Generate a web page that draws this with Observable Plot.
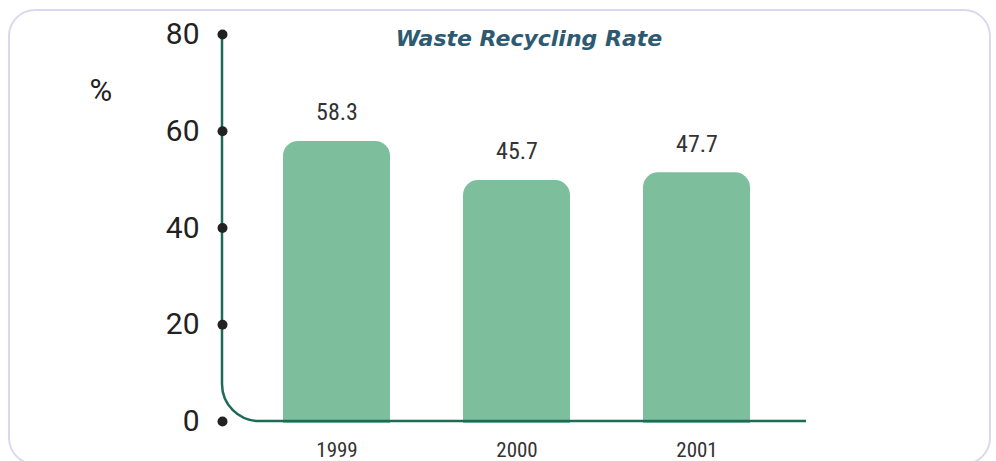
<!DOCTYPE html>
<html>
<head>
<meta charset="utf-8">
<script src="https://cdn.jsdelivr.net/npm/d3@7"></script>
<script src="https://cdn.jsdelivr.net/npm/@observablehq/plot@0.6"></script>
<style>
  html, body { margin: 0; padding: 0; background: #fff; overflow: hidden; }
  #wrap { position: relative; width: 996px; height: 461px; overflow: hidden; }
  #frame { position: absolute; left: 8px; top: 9px; width: 979px; height: 452px;
           border: 2px solid #ddd7ee; border-radius: 27px; }
  #chart { position: absolute; left: 0; top: 0; }
</style>
</head>
<body>
<div id="wrap"><div id="frame"></div><div id="chart"></div></div>
<script>
const years = ["1999", "2000", "2001"];
const barHeights = [57.9, 49.8, 51.4];
const barLabels = ["58.3", "45.7", "47.7"];
const yTicks = [0, 20, 40, 60, 80];
const title = "Waste Recycling Rate";
const unit = "%";

const data = years.map((y, i) => ({year: y, value: barHeights[i], label: barLabels[i]}));
const narrow = "'Liberation Sans Narrow', 'Roboto Condensed', 'Arial Narrow', Roboto, sans-serif";
const barColor = "#7dbe9c";
const axisColor = "#1d6b56";

const plot = Plot.plot({
  width: 996,
  height: 461,
  marginLeft: 222,
  marginRight: 185,
  marginTop: 34,
  marginBottom: 40,
  style: {background: "transparent", fontFamily: "Roboto, sans-serif"},
  x: {domain: years, paddingInner: 0.406, paddingOuter: 0.331, label: null},
  y: {domain: [0, 80], label: null},
  marks: [
    Plot.barY(data, {x: "year", y: "value", fill: barColor, rx: 15}),
    Plot.barY(data, {x: "year", y: "value", fill: barColor, insetTop: 16, insetBottom: -2}),
    Plot.text(data, {x: "year", y: "value", text: "label", dy: -29, fontSize: 24,
                     fontFamily: narrow, fill: "#333"}),
    Plot.axisY({ticks: yTicks, tickSize: 0, tickPadding: 23, fontSize: 30,
                fill: "#222", label: null}),
    Plot.axisX({tickSize: 0, tickPadding: 21, fontSize: 21, fontFamily: narrow,
                fill: "#333", label: null}),
    Plot.dot(yTicks, {y: d => d, frameAnchor: "left", r: 5, fill: "#222", stroke: null}),
    Plot.text([title], {frameAnchor: "top", text: d => d, dx: 12, dy: -4,
                        fontSize: 22, fontWeight: "bold", fontStyle: "italic",
                        fontFamily: "'DejaVu Sans', Verdana, sans-serif", fill: "#2d5a71"}),
    Plot.text([unit], {frameAnchor: "top-left", text: d => d, dx: -133, dy: 44,
                       fontSize: 31, fill: "#222"})
  ]
});

// Axis line with rounded corner, drawn from the plot's own scales
const ys = plot.scale("y");
const x0 = 222;
const x1 = 806;
const y0 = ys.apply(0);
const yTop = ys.apply(80);
const r = 37;
const svg = d3.select(plot);
svg.insert("path", "g[aria-label='dot']")
  .attr("d", `M${x0},${yTop}V${y0 - r}A${r},${r} 0 0 0 ${x0 + r},${y0}H${x1}`)
  .attr("fill", "none")
  .attr("stroke", axisColor)
  .attr("stroke-width", 2.5);

document.getElementById("chart").appendChild(plot);
</script>
</body>
</html>
